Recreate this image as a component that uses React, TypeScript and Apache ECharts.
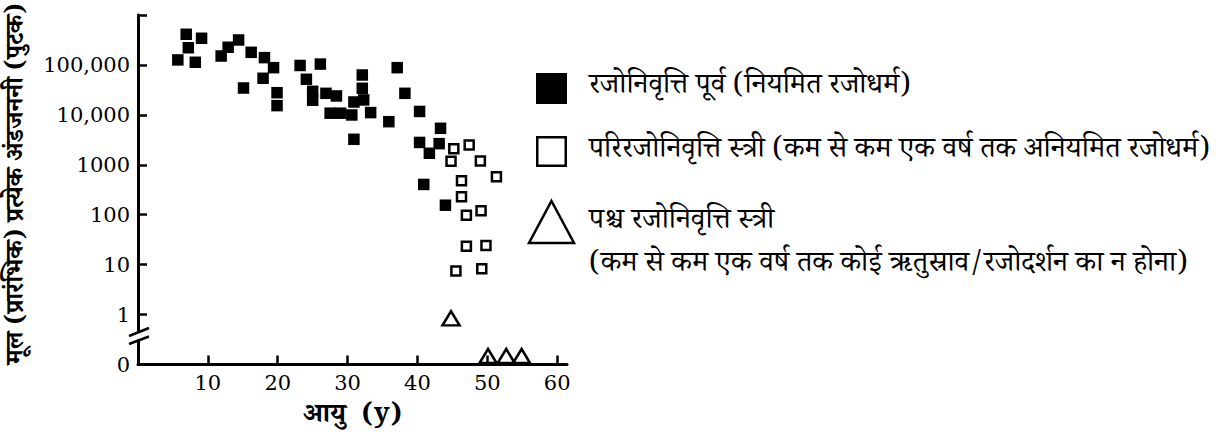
import React, { useEffect, useRef } from "react";
import * as echarts from "echarts";

// Age (years) and follicle count for each group
const preAge = [5.7, 6.9, 7.2, 8.2, 9.1, 11.9, 12.9, 14.4, 15.1, 16.2, 18.1, 19.4, 17.9, 19.9, 19.9, 23.2, 26.1, 24.1, 25.0, 25.0, 26.9, 28.4, 32.1, 32.1, 30.9, 32.3, 27.5, 29.0, 30.6, 33.3, 30.9, 37.1, 38.2, 35.9, 40.3, 43.3, 40.3, 41.7, 43.1, 40.9, 44.0];
const preCount = [126000, 411000, 221000, 113000, 342000, 151000, 226000, 316000, 34500, 179000, 140000, 88100, 54000, 27800, 15300, 97500, 104000, 51600, 29600, 19600, 27000, 23900, 62900, 34100, 18100, 19900, 10800, 10800, 9950, 11100, 3240, 88100, 27000, 7300, 11700, 5380, 2800, 1700, 2650, 404, 155];

const periAge = [45.2, 47.4, 44.8, 49.0, 51.3, 46.3, 46.3, 47.0, 49.1, 47.0, 49.8, 45.5, 49.2];
const periCount = [2100, 2500, 1180, 1190, 578, 481, 230, 97, 120, 23.3, 24.2, 7.5, 8.3];

const postAge = [44.8, 50.1, 52.7, 54.9];
const postCount = [0.84, 0, 0, 0];

const yTickValues = [0.1, 1, 10, 100, 1000, 10000, 100000, 1000000];
const xTickValues = [10, 20, 30, 40, 50, 60];

const preName = "रजोनिवृत्ति पूर्व (नियमित रजोधर्म)";
const periName = "परिरजोनिवृत्ति स्त्री (कम से कम एक वर्ष तक अनियमित रजोधर्म)";
const postName = "पश्च रजोनिवृत्ति स्त्री";
const postNote = "(कम से कम एक वर्ष तक कोई ऋतुस्राव/रजोदर्शन का न होना)";
const xTitle = "आयु  (y)";
const yTitle = "मूल (प्रारंभिक) प्रत्येक अंडजननी (पुटक)";

const AXIS_FLOOR = 0.1; // the "0" position below the axis break

const numFont = "'DejaVu Serif', 'Liberation Serif', serif";
const devFont = "'Noto Serif Devanagari', 'Noto Sans Devanagari', 'Lohit Devanagari', 'Mangal', 'DejaVu Serif', serif";

function fmtY(v: number): string {
  if (v < 0.5) return "0";
  if (v >= 999999) return "";
  const r = Math.round(v);
  if (r >= 10000) return r.toLocaleString("en-US");
  return String(r);
}

export default function App() {
  const ref = useRef<HTMLDivElement>(null);

  useEffect(() => {
    if (!ref.current) return;
    const chart = echarts.init(ref.current, undefined, { renderer: "svg" });

    const preData = preAge.map((a, i) => [a, preCount[i]]);
    const periData = periAge.map((a, i) => [a, periCount[i]]);
    const postData = postAge.map((a, i) =>
      postCount[i] === 0
        ? { value: [a, AXIS_FLOOR], symbolOffset: [0, -8.5] }
        : { value: [a, postCount[i]] }
    );

    const legendText = (text: string, y: number) => ({
      type: "text",
      z: 100,
      x: 589,
      y,
      style: { text, fontFamily: devFont, fontSize: 29, fill: "#000", verticalAlign: "middle", align: "left" },
    });

    chart.setOption({
      animation: false,
      backgroundColor: "#ffffff",
      grid: { left: 138, top: 15, right: 653, bottom: 72.5, containLabel: false },
      xAxis: {
        type: "value",
        min: 0,
        max: 61.4,
        interval: 10,
        name: xTitle,
        nameLocation: "middle",
        nameGap: 39,
        nameTextStyle: { fontFamily: devFont, fontSize: 27, lineHeight: 28, fontWeight: "bold", color: "#000" },
        axisLine: { show: true, lineStyle: { color: "#000", width: 3 } },
        axisTick: { show: true, inside: true, length: 9, lineStyle: { color: "#000", width: 2.5 }, customValues: xTickValues },
        axisLabel: { margin: 7, fontFamily: numFont, fontSize: 21, lineHeight: 22, color: "#000", customValues: xTickValues },
        splitLine: { show: false },
      },
      yAxis: {
        type: "log",
        logBase: 10,
        min: 0.1,
        max: 1000000,
        name: yTitle,
        nameLocation: "middle",
        nameRotate: 90,
        nameGap: 106,
        nameTextStyle: { fontFamily: devFont, fontSize: 25, fontWeight: "bold", color: "#000", padding: [0, 0, 0, 12] },
        axisLine: { show: true, lineStyle: { color: "#000", width: 3 } },
        axisTick: { show: true, inside: true, length: 9, lineStyle: { color: "#000", width: 2.5 }, customValues: yTickValues },
        axisLabel: { margin: 8, fontFamily: numFont, fontSize: 21, color: "#000", formatter: fmtY, customValues: yTickValues },
        splitLine: { show: false },
      },
      series: [
        {
          name: preName,
          type: "scatter",
          symbol: "rect",
          symbolSize: 11.5,
          itemStyle: { color: "#000", opacity: 1 },
          data: preData,
          clip: false,
        },
        {
          name: periName,
          type: "scatter",
          symbol: "rect",
          symbolSize: 9,
          itemStyle: { color: "#fff", borderColor: "#000", borderWidth: 2.5, opacity: 1 },
          data: periData,
          clip: false,
        },
        {
          name: postName,
          type: "scatter",
          symbol: "triangle",
          symbolSize: [17, 14],
          itemStyle: { color: "rgba(255,255,255,0)", borderColor: "#000", borderWidth: 2.5, opacity: 1 },
          data: postData,
          clip: false,
        },
      ],
      graphic: [
        // axis break on the y axis
        { type: "rect", z: 100, shape: { x: 133, y: 331.5, width: 10, height: 8 }, style: { fill: "#fff" } },
        { type: "line", z: 101, shape: { x1: 129, y1: 336, x2: 149, y2: 328 }, style: { stroke: "#000", lineWidth: 2.5 } },
        { type: "line", z: 101, shape: { x1: 129, y1: 344, x2: 149, y2: 336.5 }, style: { stroke: "#000", lineWidth: 2.5 } },
        // legend
        { type: "rect", z: 100, shape: { x: 536, y: 73, width: 31, height: 31 }, style: { fill: "#000" } },
        legendText(preName, 88),
        { type: "rect", z: 100, shape: { x: 537.25, y: 137.25, width: 28.5, height: 28.5 }, style: { fill: "#fff", stroke: "#000", lineWidth: 2.5 } },
        legendText(periName, 152),
        { type: "polygon", z: 100, shape: { points: [[551.5, 201], [574, 243], [529, 243]] }, style: { fill: "#fff", stroke: "#000", lineWidth: 2.5 } },
        legendText(postName, 223),
        legendText(postNote, 266),
      ],
    });

    return () => chart.dispose();
  }, []);

  return (
    <div
      ref={ref}
      style={{ position: "fixed", left: 0, top: 0, width: 1220, height: 437, background: "#fff" }}
    />
  );
}
